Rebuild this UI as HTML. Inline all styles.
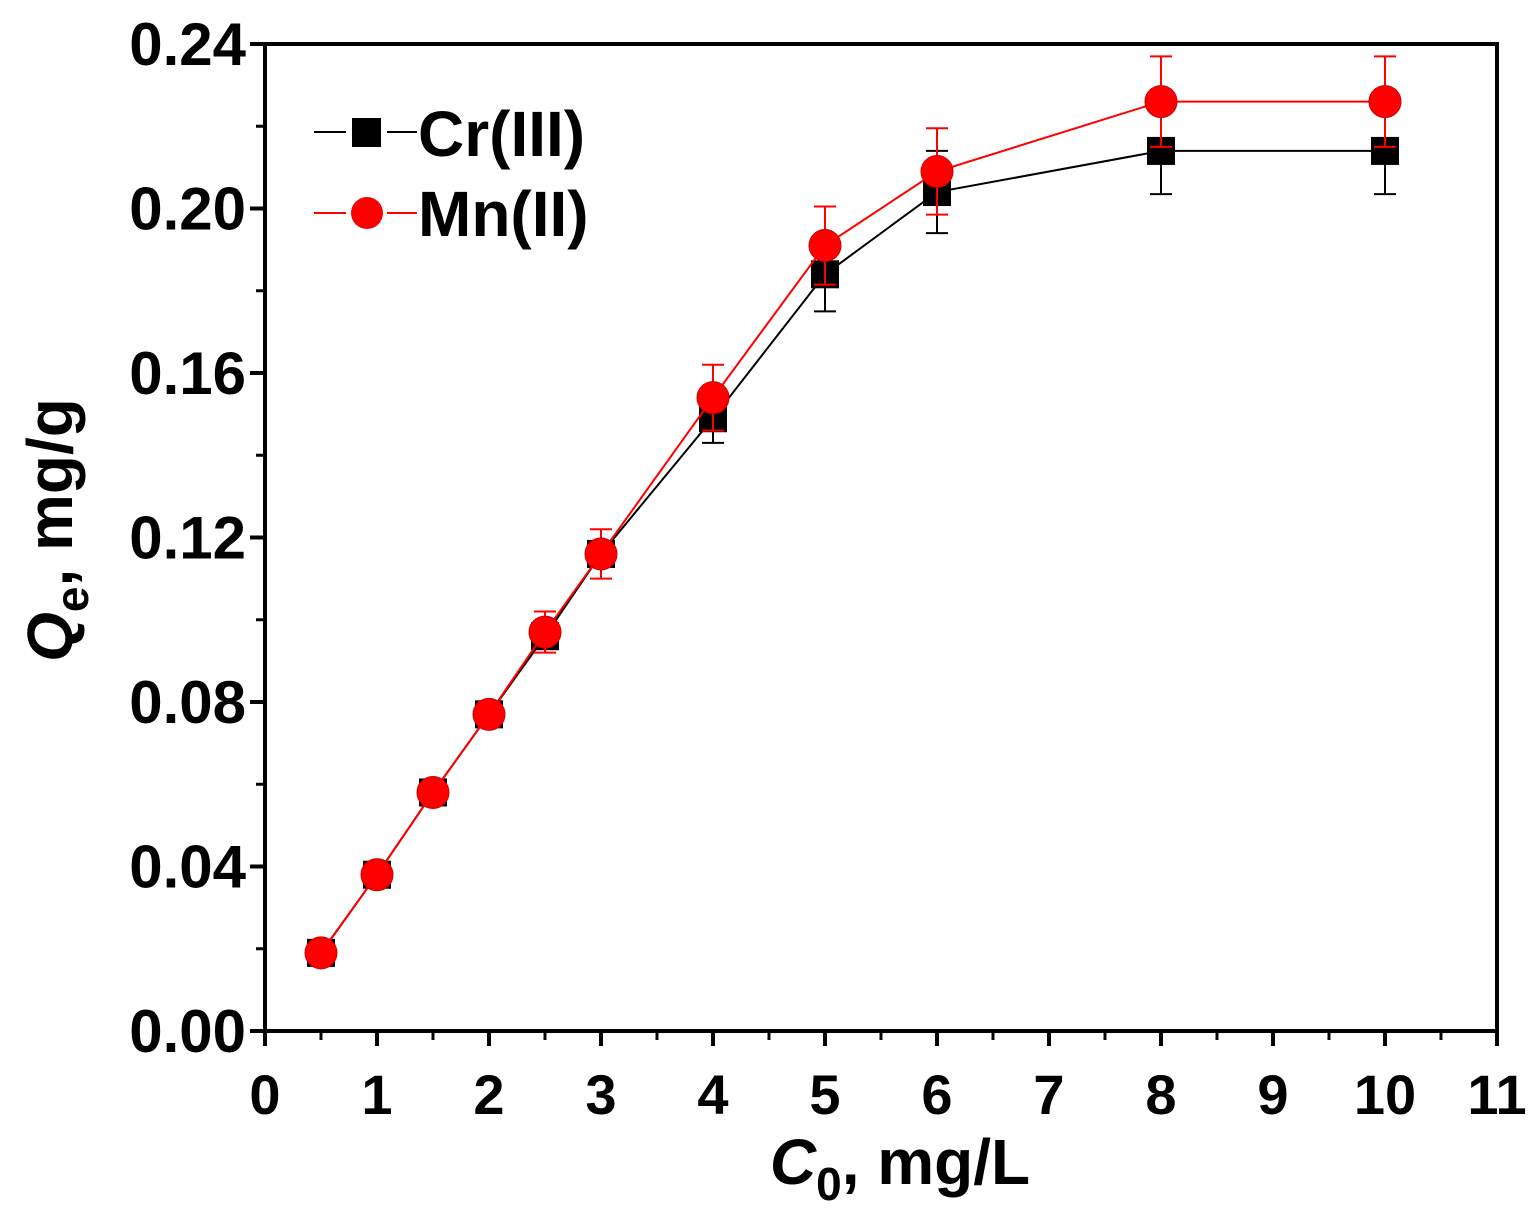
<!DOCTYPE html>
<html><head><meta charset="utf-8"><style>
body{margin:0;background:#fff}
svg text{font-family:"Liberation Sans",Arial,sans-serif;font-weight:bold}
</style></head><body>
<svg id="chart" width="1533" height="1221" xmlns="http://www.w3.org/2000/svg">
<g id="marks"></g>
<g id="axes"></g>
<g>
<line x1="314" y1="132" x2="346" y2="132" stroke="#000" stroke-width="2"/>
<line x1="387" y1="132" x2="417" y2="132" stroke="#000" stroke-width="2"/>
<rect x="352" y="118" width="29" height="29" fill="#000"/>
<text x="418" y="156" font-size="64">Cr(III)</text>
<line x1="314" y1="213" x2="346" y2="213" stroke="#f00" stroke-width="2"/>
<line x1="387" y1="213" x2="417" y2="213" stroke="#f00" stroke-width="2"/>
<circle cx="367" cy="213" r="16" fill="#f00"/>
<text x="418" y="236" font-size="64">Mn(II)</text>
</g>
<text x="900" y="1184" font-size="64" text-anchor="middle"><tspan font-style="italic">C</tspan><tspan font-size="46" dy="16">0</tspan><tspan dy="-16">, mg/L</tspan></text>
<text transform="translate(72,530) rotate(-90)" font-size="64" text-anchor="middle"><tspan font-style="italic">Q</tspan><tspan font-size="46" dy="16">e</tspan><tspan dy="-16">, mg/g</tspan></text>
</svg>
<script>
const xVals=[0.5,1,1.5,2,2.5,3,4,5,6,8,10];
const crVals=[0.019,0.038,0.058,0.077,0.096,0.116,0.149,0.184,0.204,0.214,0.214];
const crErr=[0.002,0.002,0.002,0.002,0.003,0.003,0.006,0.009,0.010,0.0105,0.0105];
const mnVals=[0.019,0.038,0.058,0.077,0.097,0.116,0.154,0.191,0.209,0.226,0.226];
const mnErr=[0.002,0.002,0.002,0.003,0.005,0.006,0.008,0.0095,0.0105,0.011,0.011];
const xTicks=[0,1,2,3,4,5,6,7,8,9,10,11];
const yTicks=[0,0.04,0.08,0.12,0.16,0.20,0.24];
const NS="http://www.w3.org/2000/svg";
const L=265,R=1497,T=44,B=1031;
const xs=v=>L+(v-0)/11*(R-L);
const ys=v=>B-(v/0.24)*(B-T);
function mk(tag,attrs,parent){const e=document.createElementNS(NS,tag);for(const k in attrs)e.setAttribute(k,attrs[k]);parent.appendChild(e);return e;}
const marks=document.getElementById('marks'),axes=document.getElementById('axes');
function series(vals,errs,color,shape,name){
  const pts=xVals.map((x,i)=>xs(x)+','+ys(vals[i])).join(' ');
  const pl=mk('polyline',{points:pts,fill:'none',stroke:color,'stroke-width':2},marks);
  
  
  xVals.forEach((x,i)=>{
    const cx=xs(x),y1=ys(vals[i]+errs[i]),y2=ys(vals[i]-errs[i]);
    const g=mk('g',{stroke:color,'stroke-width':2},marks);
    
    
    mk('line',{x1:cx,x2:cx,y1:y1,y2:y2},g);
    mk('line',{x1:cx-11,x2:cx+11,y1:y1,y2:y1},g);
    mk('line',{x1:cx-11,x2:cx+11,y1:y2,y2:y2},g);
  });
  xVals.forEach((x,i)=>{
    let m;
    if(shape==='sq') m=mk('rect',{x:xs(x)-14,y:ys(vals[i])-14,width:28,height:28,fill:color},marks);
    else m=mk('circle',{cx:xs(x),cy:ys(vals[i]),r:16,fill:color,stroke:'#c00','stroke-width':1},marks);
    
    
  });
}
series(crVals,crErr,'#000','sq','cr');
series(mnVals,mnErr,'#f00','ci','mn');
const fr=mk('rect',{x:L,y:T,width:R-L,height:B-T,fill:'none',stroke:'#000','stroke-width':4},axes);


xTicks.forEach(v=>{
  const x=xs(v);
  mk('line',{x1:x,x2:x,y1:B,y2:B+15,stroke:'#000','stroke-width':4},axes);
  if(v<11) mk('line',{x1:xs(v+0.5),x2:xs(v+0.5),y1:B,y2:B+9,stroke:'#000','stroke-width':3},axes);
  const t=mk('text',{x:x,y:1114,'font-size':56,'text-anchor':'middle'},axes);
  
  
  t.textContent=v;
});
yTicks.forEach((v,i)=>{
  const y=ys(v);
  mk('line',{x1:L-15,x2:L,y1:y,y2:y,stroke:'#000','stroke-width':4},axes);
  if(i<yTicks.length-1) mk('line',{x1:L-9,x2:L,y1:ys(v+0.02),y2:ys(v+0.02),stroke:'#000','stroke-width':3},axes);
  const t=mk('text',{x:246,y:y+21,'font-size':60,'text-anchor':'end'},axes);
  
  
  t.textContent=v.toFixed(2);
});
</script>
</body></html>
